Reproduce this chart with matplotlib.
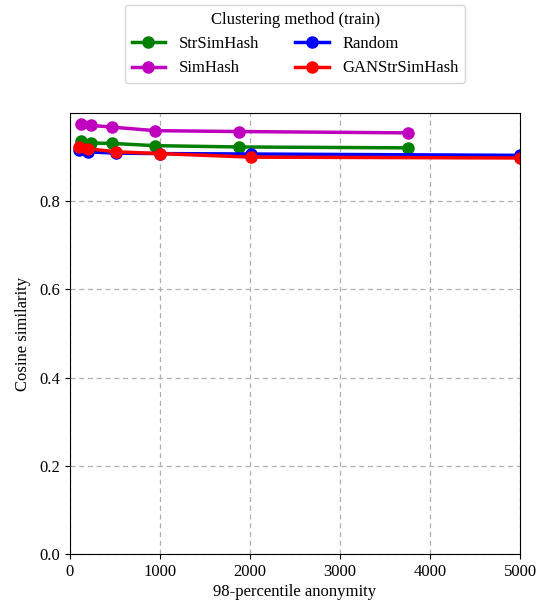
import numpy as np
import matplotlib
matplotlib.use('Agg')
import matplotlib.pyplot as plt

plt.rcParams['font.family'] = 'serif'
plt.rcParams['font.serif'] = ['Liberation Serif', 'DejaVu Serif']

# anonymity (x) and cosine similarity (y) per clustering method
x_strsim = [119, 233, 470, 944, 1881, 3756]
y_strsim = [0.937, 0.932, 0.931, 0.926, 0.923, 0.921]

x_simhash = [119, 233, 470, 944, 1881, 3756]
y_simhash = [0.974, 0.972, 0.968, 0.960, 0.958, 0.955]

x_random = [104, 204, 511, 1000, 2007, 5000]
y_random = [0.917, 0.912, 0.909, 0.908, 0.907, 0.904]

x_gan = [104, 204, 511, 1000, 2007, 5000]
y_gan = [0.922, 0.919, 0.912, 0.908, 0.900, 0.898]

fig = plt.figure(figsize=(5.49, 6.06), dpi=100)
ax = fig.add_axes([0.1275, 0.0858, 0.8197, 0.7277])

ax.plot(x_strsim, y_strsim, color='green', marker='o', linewidth=2.5, markersize=8, label='StrSimHash')
ax.plot(x_simhash, y_simhash, color='m', marker='o', linewidth=2.5, markersize=8, label='SimHash')
ax.plot(x_random, y_random, color='blue', marker='o', linewidth=2.5, markersize=8, label='Random')
ax.plot(x_gan, y_gan, color='red', marker='o', linewidth=2.5, markersize=8, label='GANStrSimHash')

ax.set_xlim([0, 5000])
ax.set_ylim([0, 1.0])
ax.set_yticks([0.0, 0.2, 0.4, 0.6, 0.8])
ax.grid(True, linestyle=(0, (4, 3)), color='#b0b0b0', linewidth=0.9)
ax.set_xlabel('98-percentile anonymity', fontsize=12, labelpad=3)
ax.set_ylabel('Cosine similarity', fontsize=12, labelpad=6)
ax.tick_params(axis='both', which='major', labelsize=12)

fig.legend(loc='upper center', bbox_to_anchor=(0.5375, 0.997), ncol=2,
           title='Clustering method (train)', fontsize=12, title_fontsize=12,
           columnspacing=2.2, handlelength=2.0, borderaxespad=0.2)

fig.savefig('out.png', dpi=100)
